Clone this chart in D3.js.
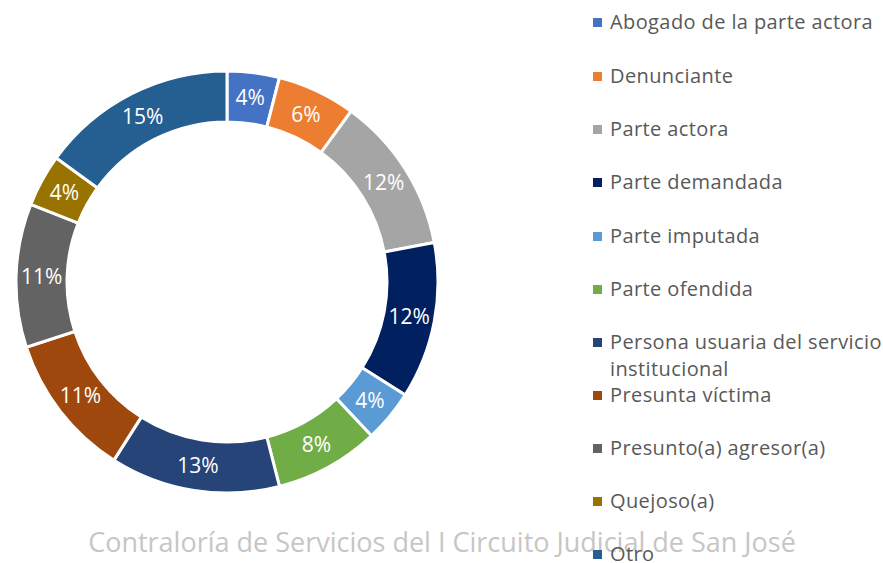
<!DOCTYPE html>
<html>
<head>
<meta charset="utf-8">
<script src="https://cdn.jsdelivr.net/npm/d3@7"></script>
<style>
  body { margin: 0; background: #fff; }
  svg { display: block; font-family: "Open Sans", Lato, sans-serif; }
</style>
</head>
<body>
<script>
(function(){

    //chart data
    var categories = ["Abogado de la parte actora","Denunciante","Parte actora","Parte demandada",
        "Parte imputada","Parte ofendida","Persona usuaria del servicio institucional",
        "Presunta víctima","Presunto(a) agresor(a)","Quejoso(a)","Otro"];
    var values = [4, 6, 12, 12, 4, 8, 13, 11, 11, 4, 15];
    var colors = ["#4472C4","#ED7D31","#A5A5A5","#002060","#5B9BD5","#70AD47",
        "#264478","#9E480E","#636363","#997300","#255E91"];
    var watermark = "Contraloría de Servicios del I Circuito Judicial de San José";

    window.onload = drawChart();

    function drawChart(){
        var width = 883,
            height = 563;

        var svg = d3.select("body")
            .append("svg")
            .attr("width", width)
            .attr("height", height);

        //donut
        var cx = 227, cy = 282,
            outer = 211, inner = 160;

        var pie = d3.pie().sort(null).value(function(d){ return d; });
        var arc = d3.arc().innerRadius(inner).outerRadius(outer);
        var labelArc = d3.arc().innerRadius((inner + outer) / 2).outerRadius((inner + outer) / 2);

        var g = svg.append("g").attr("transform", "translate(" + cx + "," + cy + ")");
        var arcs = pie(values);

        g.selectAll(".slice")
            .data(arcs)
            .enter()
            .append("path")
            .attr("class", "slice")
            .attr("d", arc)
            .attr("fill", function(d, i){ return colors[i]; })
            .attr("stroke", "#fff")
            .attr("stroke-width", 3);

        g.selectAll(".lbl")
            .data(arcs)
            .enter()
            .append("text")
            .attr("class", "lbl")
            .attr("transform", function(d){ return "translate(" + labelArc.centroid(d) + ")"; })
            .attr("text-anchor", "middle")
            .attr("dy", "0.35em")
            .attr("fill", "#fff")
            .style("font-size", "21px")
            .text(function(d){ return d.data + "%"; });

        //watermark
        svg.append("text")
            .attr("x", 442)
            .attr("y", 552)
            .attr("text-anchor", "middle")
            .attr("fill", "#c6c6c6")
            .style("font-size", "27px")
            .text(watermark);

        //legend
        var rowY = [22, 76, 129, 182, 236, 289, 342, 395, 448, 501, 554];
        var leg = svg.selectAll(".leg")
            .data(categories)
            .enter()
            .append("g")
            .attr("class", "leg")
            .attr("transform", function(d, i){ return "translate(593," + rowY[i] + ")"; });

        leg.append("rect")
            .attr("x", 0).attr("y", -4)
            .attr("width", 9).attr("height", 9)
            .attr("fill", function(d, i){ return colors[i]; });

        leg.append("text")
            .attr("x", 17)
            .attr("dy", "0.35em")
            .attr("fill", "#595959")
            .style("font-size", "20px")
            .style("letter-spacing", "0.4px")
            .each(function(d){
                var t = d3.select(this);
                if (d.indexOf("Persona") === 0){
                    t.append("tspan").attr("x", 17).text("Persona usuaria del servicio");
                    t.append("tspan").attr("x", 17).attr("dy", "1.35em").text("institucional");
                } else {
                    t.text(d);
                }
            });
    }
})();
</script>
</body>
</html>
